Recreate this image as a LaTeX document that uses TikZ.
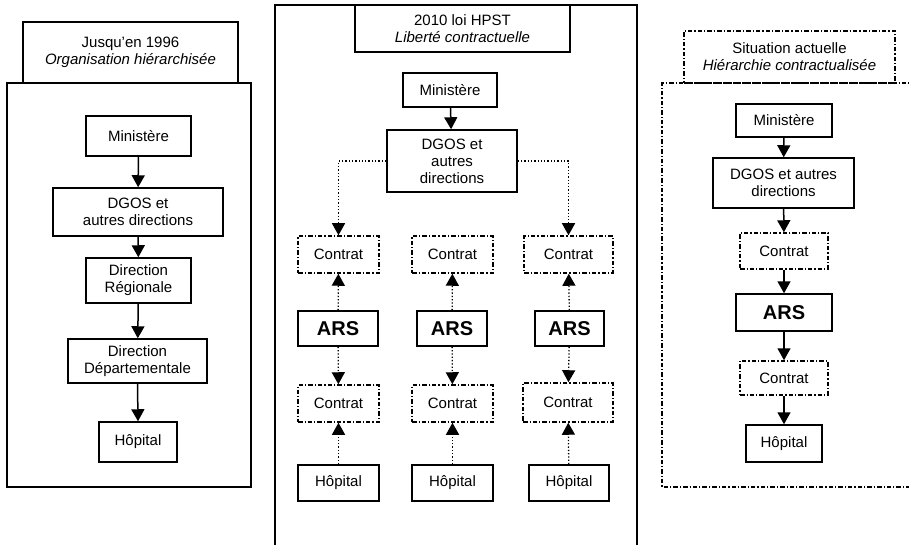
\documentclass[tikz,border=0pt]{standalone}
\usepackage{fontspec}
\setmainfont{Liberation Sans}
\usetikzlibrary{arrows.meta}
\begin{document}
\begin{tikzpicture}[x=1pt, y=-1pt,
	box/.style={draw=black, line width=1.5pt, inner sep=0pt, align=center, font=\fontsize{15}{17}\selectfont},
	dashdot/.style={dash pattern=on 4.5pt off 2pt on 1.2pt off 2pt},
	contrat/.style={box, dashdot},
	ars/.style={box, font=\fontsize{20}{22}\bfseries},
	link/.style={line width=1.5pt, -{Triangle[length=12pt, width=13pt]}},
	dotlink/.style={link, line width=1.3pt, dotted}]
			\clip (0,0) rectangle (909,545);
			%Left panel:
			\draw[line width=1.5pt] (7,83) rectangle (251,487);
			\path
				(130.5, 52.5) node[box, minimum width=215pt, minimum height=61pt] (titleL) {Jusqu'en 1996\\\itshape Organisation hiérarchisée}
				(138.5, 136) node[box, minimum width=105pt, minimum height=40pt] (minL) {Ministère}
				(138, 212) node[box, minimum width=170pt, minimum height=48pt] (dgosL) {DGOS et\\autres directions}
				(138.5, 280.5) node[box, minimum width=105pt, minimum height=45pt] (regL) {Direction\\Régionale}
				(137.5, 361) node[box, minimum width=139pt, minimum height=44pt] (depL) {Direction\\Départementale}
				(138, 442) node[box, minimum width=78pt, minimum height=40pt] (hopL) {Hôpital};
			\draw[link] (minL) -- (dgosL);
			\draw[link] (dgosL) -- (regL);
			\draw[link] (regL) -- (depL);
			\draw[link] (depL.south) -- (hopL.north);
			%Middle panel:
			\draw[line width=1.5pt] (275,560) -- (275,5) -- (637,5) -- (637,560);
			\path
				(462.5, 28.5) node[box, minimum width=215pt, minimum height=47pt] (titleM) {2010 loi HPST\\\itshape Liberté contractuelle}
				(450, 90) node[box, minimum width=94pt, minimum height=34pt] (minM) {Ministère}
				(452, 161) node[box, minimum width=130pt, minimum height=62pt] (dgosM) {DGOS et\\autres\\directions}
				(338.5, 254.5) node[contrat, minimum width=81pt, minimum height=37pt] (cA1) {Contrat}
				(452.5, 254.5) node[contrat, minimum width=81pt, minimum height=37pt] (cB1) {Contrat}
				(568.5, 254.5) node[contrat, minimum width=89pt, minimum height=37pt] (cC1) {Contrat}
				(338, 328.5) node[ars, minimum width=80pt, minimum height=35pt] (arsA) {ARS}
				(452, 328.5) node[ars, minimum width=70pt, minimum height=35pt] (arsB) {ARS}
				(569.5, 328.5) node[ars, minimum width=69pt, minimum height=35pt] (arsC) {ARS}
				(338.5, 403.5) node[contrat, minimum width=81pt, minimum height=37pt] (cA2) {Contrat}
				(452.5, 403.5) node[contrat, minimum width=81pt, minimum height=37pt] (cB2) {Contrat}
				(568, 402.5) node[contrat, minimum width=90pt, minimum height=39pt] (cC2) {Contrat}
				(338.5, 483) node[box, minimum width=81pt, minimum height=36pt] (hopA) {Hôpital}
				(452.5, 483) node[box, minimum width=81pt, minimum height=36pt] (hopB) {Hôpital}
				(569, 483) node[box, minimum width=80pt, minimum height=36pt] (hopC) {Hôpital};
			\draw[link] (minM) -- (dgosM);
			\draw[dotlink] (dgosM.west) -| (cA1.north);
			\draw[dotlink] (dgosM.east) -| (cC1.north);
			\foreach \col in {A,B,C} {
				\draw[dotlink] (ars\col) -- (c\col1);
				\draw[dotlink] (ars\col) -- (c\col2);
				\draw[dotlink] (hop\col) -- (c\col2);
			}
			%Right panel:
			\draw[line width=1.2pt, dashdot] (930,487) -- (662,487) -- (662,83) -- (930,83);
			\path
				(789.5, 57) node[box, dashdot, line width=1.2pt, minimum width=211pt, minimum height=52pt] (titleR) {Situation actuelle\\\itshape Hiérarchie contractualisée}
				(784, 120.5) node[box, minimum width=96pt, minimum height=33pt] (minR) {Ministère}
				(783.5, 183) node[box, minimum width=141pt, minimum height=50pt] (dgosR) {DGOS et autres\\directions}
				(784, 251) node[contrat, minimum width=88pt, minimum height=36pt] (cR1) {Contrat}
				(784, 312.5) node[ars, minimum width=96pt, minimum height=37pt] (arsR) {ARS}
				(784, 378) node[contrat, minimum width=88pt, minimum height=34pt] (cR2) {Contrat}
				(784, 443.5) node[box, minimum width=76pt, minimum height=37pt] (hopR) {Hôpital};
			\draw[link] (minR) -- (dgosR);
			\draw[link] (dgosR) -- (cR1);
			\draw[link] (cR1) -- (arsR);
			\draw[link] (arsR) -- (cR2);
			\draw[link] (cR2) -- (hopR);
\end{tikzpicture}
\end{document}
